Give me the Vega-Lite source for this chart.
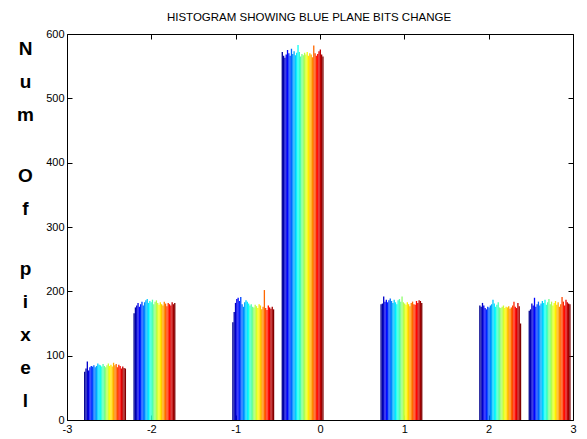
{
"$schema": "https://vega.github.io/schema/vega-lite/v6.json",
"width": 506, "height": 386,
"autosize": "none",
"padding": {"left": 67, "top": 34, "right": 14, "bottom": 19},
"background": "white",
"title": {"text": "HISTOGRAM SHOWING BLUE PLANE BITS CHANGE", "font": "Liberation Sans", "fontSize": 11.5, "fontWeight": "normal", "color": "black", "offset": 5, "dx": -11},
"config": {
 "view": {"stroke": "black", "strokeWidth": 1},
 "axis": {"domain": false, "grid": false, "tickColor": "black", "tickSize": -5, "labelPadding": 8, "labelColor": "black", "labelFont": "Liberation Sans", "labelFontSize": 11, "labelFlush": false, "labelOverlap": false,
          "titleAngle": 0, "titleAlign": "center", "titleBaseline": "middle", "titleLineHeight": 33,
          "titleFont": "Liberation Sans", "titleFontSize": 19, "titleFontWeight": "bold", "titleColor": "black"}
},
"data": {"values": [
{"b":0,"s":0,"n":75},{"b":0,"s":1,"n":80},{"b":0,"s":2,"n":91},{"b":0,"s":3,"n":77},{"b":0,"s":4,"n":82},{"b":0,"s":5,"n":84},{"b":0,"s":6,"n":83},{"b":0,"s":7,"n":85},{"b":0,"s":8,"n":82},{"b":0,"s":9,"n":84},{"b":0,"s":10,"n":88},{"b":0,"s":11,"n":86},{"b":0,"s":12,"n":85},{"b":0,"s":13,"n":83},{"b":0,"s":14,"n":87},{"b":0,"s":15,"n":84},{"b":0,"s":16,"n":82},{"b":0,"s":17,"n":85},{"b":0,"s":18,"n":88},{"b":0,"s":19,"n":84},{"b":0,"s":20,"n":86},{"b":0,"s":21,"n":83},{"b":0,"s":22,"n":89},{"b":0,"s":23,"n":85},{"b":0,"s":24,"n":87},{"b":0,"s":25,"n":82},{"b":0,"s":26,"n":86},{"b":0,"s":27,"n":84},{"b":0,"s":28,"n":80},{"b":0,"s":29,"n":83},{"b":0,"s":30,"n":81},{"b":0,"s":31,"n":80},
{"b":1,"s":0,"n":166},{"b":1,"s":1,"n":175},{"b":1,"s":2,"n":178},{"b":1,"s":3,"n":182},{"b":1,"s":4,"n":176},{"b":1,"s":5,"n":180},{"b":1,"s":6,"n":184},{"b":1,"s":7,"n":178},{"b":1,"s":8,"n":183},{"b":1,"s":9,"n":186},{"b":1,"s":10,"n":188},{"b":1,"s":11,"n":182},{"b":1,"s":12,"n":185},{"b":1,"s":13,"n":183},{"b":1,"s":14,"n":187},{"b":1,"s":15,"n":180},{"b":1,"s":16,"n":184},{"b":1,"s":17,"n":186},{"b":1,"s":18,"n":182},{"b":1,"s":19,"n":179},{"b":1,"s":20,"n":183},{"b":1,"s":21,"n":180},{"b":1,"s":22,"n":178},{"b":1,"s":23,"n":184},{"b":1,"s":24,"n":181},{"b":1,"s":25,"n":177},{"b":1,"s":26,"n":182},{"b":1,"s":27,"n":180},{"b":1,"s":28,"n":178},{"b":1,"s":29,"n":183},{"b":1,"s":30,"n":180},{"b":1,"s":31,"n":182},
{"b":3,"s":0,"n":152},{"b":3,"s":1,"n":168},{"b":3,"s":2,"n":182},{"b":3,"s":3,"n":188},{"b":3,"s":4,"n":190},{"b":3,"s":5,"n":185},{"b":3,"s":6,"n":191},{"b":3,"s":7,"n":180},{"b":3,"s":8,"n":176},{"b":3,"s":9,"n":183},{"b":3,"s":10,"n":186},{"b":3,"s":11,"n":184},{"b":3,"s":12,"n":181},{"b":3,"s":13,"n":178},{"b":3,"s":14,"n":180},{"b":3,"s":15,"n":176},{"b":3,"s":16,"n":175},{"b":3,"s":17,"n":179},{"b":3,"s":18,"n":177},{"b":3,"s":19,"n":174},{"b":3,"s":20,"n":180},{"b":3,"s":21,"n":178},{"b":3,"s":22,"n":172},{"b":3,"s":23,"n":176},{"b":3,"s":24,"n":202},{"b":3,"s":25,"n":174},{"b":3,"s":26,"n":171},{"b":3,"s":27,"n":178},{"b":3,"s":28,"n":175},{"b":3,"s":29,"n":173},{"b":3,"s":30,"n":176},{"b":3,"s":31,"n":172},
{"b":4,"s":0,"n":572},{"b":4,"s":1,"n":566},{"b":4,"s":2,"n":563},{"b":4,"s":3,"n":568},{"b":4,"s":4,"n":575},{"b":4,"s":5,"n":570},{"b":4,"s":6,"n":566},{"b":4,"s":7,"n":577},{"b":4,"s":8,"n":569},{"b":4,"s":9,"n":573},{"b":4,"s":10,"n":567},{"b":4,"s":11,"n":571},{"b":4,"s":12,"n":583},{"b":4,"s":13,"n":572},{"b":4,"s":14,"n":565},{"b":4,"s":15,"n":569},{"b":4,"s":16,"n":567},{"b":4,"s":17,"n":571},{"b":4,"s":18,"n":568},{"b":4,"s":19,"n":572},{"b":4,"s":20,"n":566},{"b":4,"s":21,"n":570},{"b":4,"s":22,"n":568},{"b":4,"s":23,"n":564},{"b":4,"s":24,"n":582},{"b":4,"s":25,"n":570},{"b":4,"s":26,"n":566},{"b":4,"s":27,"n":569},{"b":4,"s":28,"n":573},{"b":4,"s":29,"n":576},{"b":4,"s":30,"n":568},{"b":4,"s":31,"n":565},
{"b":6,"s":0,"n":180},{"b":6,"s":1,"n":181},{"b":6,"s":2,"n":192},{"b":6,"s":3,"n":184},{"b":6,"s":4,"n":187},{"b":6,"s":5,"n":183},{"b":6,"s":6,"n":186},{"b":6,"s":7,"n":189},{"b":6,"s":8,"n":185},{"b":6,"s":9,"n":182},{"b":6,"s":10,"n":187},{"b":6,"s":11,"n":183},{"b":6,"s":12,"n":180},{"b":6,"s":13,"n":186},{"b":6,"s":14,"n":188},{"b":6,"s":15,"n":184},{"b":6,"s":16,"n":192},{"b":6,"s":17,"n":183},{"b":6,"s":18,"n":181},{"b":6,"s":19,"n":179},{"b":6,"s":20,"n":183},{"b":6,"s":21,"n":180},{"b":6,"s":22,"n":177},{"b":6,"s":23,"n":182},{"b":6,"s":24,"n":184},{"b":6,"s":25,"n":180},{"b":6,"s":26,"n":179},{"b":6,"s":27,"n":185},{"b":6,"s":28,"n":182},{"b":6,"s":29,"n":186},{"b":6,"s":30,"n":185},{"b":6,"s":31,"n":182},
{"b":8,"s":0,"n":178},{"b":8,"s":1,"n":176},{"b":8,"s":2,"n":182},{"b":8,"s":3,"n":178},{"b":8,"s":4,"n":174},{"b":8,"s":5,"n":172},{"b":8,"s":6,"n":176},{"b":8,"s":7,"n":175},{"b":8,"s":8,"n":178},{"b":8,"s":9,"n":180},{"b":8,"s":10,"n":187},{"b":8,"s":11,"n":181},{"b":8,"s":12,"n":176},{"b":8,"s":13,"n":179},{"b":8,"s":14,"n":183},{"b":8,"s":15,"n":175},{"b":8,"s":16,"n":174},{"b":8,"s":17,"n":176},{"b":8,"s":18,"n":178},{"b":8,"s":19,"n":174},{"b":8,"s":20,"n":176},{"b":8,"s":21,"n":175},{"b":8,"s":22,"n":177},{"b":8,"s":23,"n":173},{"b":8,"s":24,"n":175},{"b":8,"s":25,"n":178},{"b":8,"s":26,"n":184},{"b":8,"s":27,"n":176},{"b":8,"s":28,"n":174},{"b":8,"s":29,"n":182},{"b":8,"s":30,"n":177},{"b":8,"s":31,"n":150},
{"b":9,"s":0,"n":170},{"b":9,"s":1,"n":172},{"b":9,"s":2,"n":181},{"b":9,"s":3,"n":178},{"b":9,"s":4,"n":190},{"b":9,"s":5,"n":176},{"b":9,"s":6,"n":180},{"b":9,"s":7,"n":184},{"b":9,"s":8,"n":178},{"b":9,"s":9,"n":181},{"b":9,"s":10,"n":185},{"b":9,"s":11,"n":182},{"b":9,"s":12,"n":187},{"b":9,"s":13,"n":179},{"b":9,"s":14,"n":183},{"b":9,"s":15,"n":188},{"b":9,"s":16,"n":180},{"b":9,"s":17,"n":184},{"b":9,"s":18,"n":178},{"b":9,"s":19,"n":182},{"b":9,"s":20,"n":185},{"b":9,"s":21,"n":179},{"b":9,"s":22,"n":183},{"b":9,"s":23,"n":176},{"b":9,"s":24,"n":180},{"b":9,"s":25,"n":191},{"b":9,"s":26,"n":184},{"b":9,"s":27,"n":178},{"b":9,"s":28,"n":187},{"b":9,"s":29,"n":183},{"b":9,"s":30,"n":181},{"b":9,"s":31,"n":180}
]},
"layer": [
 {
  "mark": {"type": "bar", "stroke": null},
  "encoding": {
   "x": {"field": "b", "type": "ordinal", "axis": null,
         "scale": {"domain": [0,1,2,3,4,5,6,7,8,9], "paddingInner": 0.15, "paddingOuter": 0.197, "align": 0.876, "round": false}},
   "xOffset": {"field": "s", "type": "ordinal", "scale": {"paddingInner": 0, "paddingOuter": 0}},
   "y": {"field": "n", "type": "quantitative", "scale": {"domain": [0, 600], "nice": false},
         "axis": {"orient": "left", "values": [0,100,200,300,400,500,600],
                  "title": ["N","u","m"], "titleX": -42, "titleY": 14}},
   "color": {"field": "s", "type": "quantitative", "legend": null,
             "scale": {"domain": [0, 3.875, 11.625, 19.375, 27.125, 31], "range": ["#00008f", "#0000ff", "#00ffff", "#ffff00", "#ff0000", "#800000"], "interpolate": "rgb"}}
  }
 },
 {
  "mark": {"type": "point", "opacity": 0},
  "encoding": {
   "x": {"datum": 0, "type": "quantitative", "scale": {"domain": [-3, 3], "nice": false, "zero": false},
         "axis": {"orient": "bottom", "values": [-3,-2,-1,0,1,2,3], "title": null, "labelExpr": "'' + datum.value"}},
   "y": {"datum": 0, "type": "quantitative", "scale": {"domain": [0, 600], "nice": false},
         "axis": {"orient": "right", "values": [0,100,200,300,400,500,600], "labels": false,
                  "title": ["O","f"], "titleX": -548, "titleY": 141}}
  }
 },
 {
  "mark": {"type": "point", "opacity": 0},
  "encoding": {
   "x": {"datum": 0, "type": "quantitative", "scale": {"domain": [-3, 3], "nice": false, "zero": false},
         "axis": {"orient": "top", "values": [-3,-2,-1,0,1,2,3], "labels": false,
                  "title": ["p","i","x","e","l"], "titleX": -42, "titleY": 234}}
  }
 }
],
"resolve": {"scale": {"x": "independent", "y": "independent"}, "axis": {"x": "independent", "y": "independent"}}
}
